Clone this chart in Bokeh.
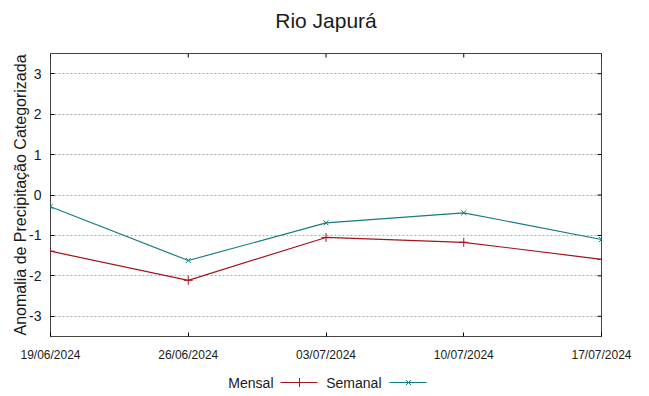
import math
from datetime import datetime
from bokeh.plotting import figure
from bokeh.layouts import column
from bokeh.models import FixedTicker, DatetimeTickFormatter, Range1d
from bokeh.core.properties import value
from bokeh.embed import file_html
from bokeh.resources import INLINE

title = "Rio Japurá"
dates = ["19/06/2024", "26/06/2024", "03/07/2024", "10/07/2024", "17/07/2024"]
mensal = [-1.39, -2.11, -1.05, -1.17, -1.59]
semanal = [-0.29, -1.62, -0.69, -0.44, -1.10]
yticks = [-3, -2, -1, 0, 1, 2, 3]
ymin, ymax = -3.5, 3.5

xs = [datetime.strptime(d, "%d/%m/%Y") for d in dates]
xms = [x.timestamp() * 1000 for x in xs]

C_M = "#a3151d"
C_S = "#167c7e"
FONT = "Liberation Sans"
W = 649
FL, FR = 50, 601   # frame edges in page pixels (column aligns frames)


def strip(h):
    f = figure(width=W, height=h, output_backend="svg", toolbar_location=None,
               x_range=Range1d(FL, FR), y_range=Range1d(0, h),
               x_axis_location=None, y_axis_location=None,
               min_border_left=FL, min_border_right=W - FR,
               min_border_top=0, min_border_bottom=0, outline_line_color=None)
    f.grid.visible = False
    return f


# title strip
tt = strip(40)
tt.text([325.5], [20], text=[title], text_align="center", text_baseline="middle",
        text_font=value(FONT), text_font_size="21px", text_color="#1a1a1a")

p = figure(width=W, height=326, output_backend="svg", toolbar_location=None,
           x_axis_type="datetime", x_range=Range1d(xms[0], xms[-1]),
           y_range=Range1d(ymin, ymax),
           min_border_left=FL, min_border_right=W - FR, min_border_top=13, min_border_bottom=30)

p.outline_line_color = "#444444"
p.outline_line_width = 1
p.xgrid.visible = False
p.ygrid.ticker = FixedTicker(ticks=yticks)
p.ygrid.grid_line_color = "#aaaaaa"
p.ygrid.grid_line_dash = "2 2"

p.xaxis.ticker = FixedTicker(ticks=xms)
p.xaxis.formatter = DatetimeTickFormatter(days="%d/%m/%Y", months="%d/%m/%Y", years="%d/%m/%Y")
p.yaxis.ticker = FixedTicker(ticks=yticks)
p.yaxis.major_label_overrides = {t: str(t) for t in yticks}
p.yaxis.axis_label = "Anomalia de Precipitação Categorizada"
p.yaxis.axis_label_text_font = FONT
p.yaxis.axis_label_text_font_size = "16px"
p.yaxis.axis_label_text_font_style = "normal"
p.yaxis.axis_label_text_color = "#1a1a1a"
p.yaxis.axis_label_standoff = -3

for ax in [p.xaxis[0], p.yaxis[0]]:
    ax.axis_line_color = None
    ax.major_tick_in = 4
    ax.major_tick_out = 0
    ax.minor_tick_line_color = None
    ax.major_tick_line_color = "black"
    ax.major_label_text_font = FONT
    ax.major_label_text_color = "#1a1a1a"
p.xaxis.major_label_text_font_size = "12px"
p.xaxis.major_label_standoff = 11
p.yaxis.major_label_text_font_size = "14px"
p.yaxis.major_label_standoff = 9

# mirrored ticks on right and top edges
p.ray([xms[-1]] * len(yticks), yticks, length=4, length_units="screen",
      angle=math.pi, line_color="black", line_width=1)
p.ray(xms, [ymax] * len(xms), length=4, length_units="screen",
      angle=-math.pi / 2, line_color="black", line_width=1)

p.line(xms, mensal, line_color=C_M, line_width=1.2)
p.scatter(xms, mensal, marker="cross", size=9, line_color=C_M, line_width=1)
p.line(xms, semanal, line_color=C_S, line_width=1.2)
p.scatter(xms, semanal, marker="x", size=7, line_color=C_S, line_width=1)

# legend strip
lg = strip(30)
names = ["Mensal", "Semanal"]
text_right = [273, 381]
line_x0 = [280, 389]
colors = [C_M, C_S]
markers = ["cross", "x"]
msizes = [9, 7]
for nm, tr, lx, c, mk, ms in zip(names, text_right, line_x0, colors, markers, msizes):
    lg.text([tr], [14], text=[nm], text_align="right", text_baseline="middle",
            text_font=value(FONT), text_font_size="14px", text_color="#1a1a1a")
    lg.line([lx, lx + 37], [14, 14], line_color=c, line_width=1.2)
    lg.scatter([lx + 19], [14], marker=mk, size=ms, line_color=c, line_width=1)

layout = column(tt, p, lg, spacing=0)
open("out.html", "w").write(file_html(layout, INLINE))
